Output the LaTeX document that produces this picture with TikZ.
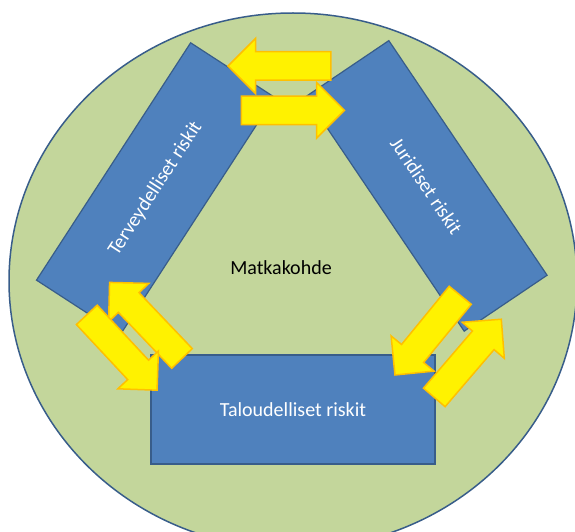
\documentclass[tikz,border=0pt]{standalone}
\usepackage{fontspec}
\setmainfont{Carlito}
\usetikzlibrary{%
  shapes,shapes.arrows,shapes.geometric,positioning,calc}
\definecolor{mBlue}{RGB}{79,129,189}
\definecolor{mDark}{RGB}{56,93,138}
\definecolor{mOlive}{RGB}{195,214,155}
\definecolor{mGold}{RGB}{255,192,0}

\begin{document}
\begin{tikzpicture}[
    x=1pt,y=1pt,
    risk/.style={
      draw=mDark,
      line width=1.2pt,
      fill=mBlue,
      text=white,
      minimum width=283pt,
      minimum height=100pt,
      inner sep=0pt,
      font=\fontsize{20}{24}\selectfont,
    },
    swap/.style={
      single arrow,
      draw=mGold,
      line width=1.5pt,
      fill=yellow,
      minimum height=103pt,
      single arrow head extend=13.5pt,
      single arrow tip angle=90,
      inner xsep=0pt,
      inner ysep=13.5pt,
      anchor=tail,
    },
  ]

  \useasboundingbox (0,0) rectangle (575,531);
  \begin{scope}
    \clip (0,0) rectangle (575,531);
    \node[draw=mDark,line width=1.5pt,fill=mOlive,ellipse,
      minimum width=568pt,minimum height=536pt] (world) at (293,250) {};
  \end{scope}

  \node[risk,rotate=57] (health) at (155.5,342.3) {Terveydelliset riskit};
  \node[risk,rotate=-56] (legal) at (426.5,345.1) {Juridiset riskit};
  \node[risk,minimum width=284pt,minimum height=109pt] (money) at (293,121.5)
    {Taloudelliset riskit};

  % vaihdot
  \node[swap,rotate=180] (legal2health) at (331.7,465) {};
  \node[swap] (health2legal) at (240.7,420.7) {};
  \node[swap,rotate=133.6,minimum height=105pt] (money2health) at (182.5,172) {};
  \node[swap,rotate=-47] (health2money) at (86.3,216.7) {};
  \node[swap,rotate=-129.3] (legal2money) at (460.7,236.3) {};
  \node[swap,rotate=49.4] (money2legal) at (433.8,133) {};

  \node[font=\fontsize{20}{24}\selectfont] (dest) at (281,263.5) {Matkakohde};

\end{tikzpicture}
\end{document}
